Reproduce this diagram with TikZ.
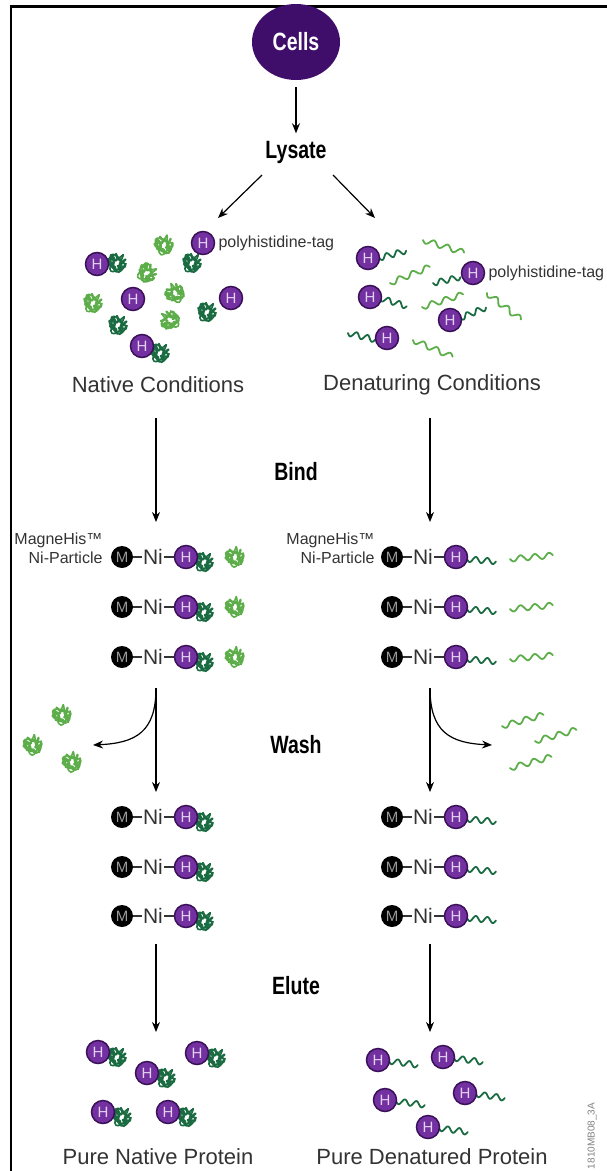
\documentclass[tikz,border=0pt]{standalone}
\usepackage{fontspec}
\setmainfont{Liberation Sans}
\newfontfamily\headfont[FakeStretch=0.78]{Liberation Sans}
\usetikzlibrary{shapes.geometric, arrows.meta}

\definecolor{cellpurple}{HTML}{3E0E6A}
\definecolor{hispurple}{HTML}{7330A0}
\definecolor{hisring}{HTML}{3A1058}
\definecolor{hisletter}{HTML}{E2D2F0}
\definecolor{darkprot}{HTML}{1B6B42}
\definecolor{lightprot}{HTML}{5DAE4A}
\definecolor{labelgray}{HTML}{333333}

\tikzset{
  head/.style={font=\headfont\bfseries\fontsize{25}{25}\selectfont},
  cond/.style={font=\fontsize{22}{22}\selectfont, text=labelgray},
  small/.style={font=\fontsize{16}{19}\selectfont, text=labelgray},
  his/.style={circle, draw=hisring, line width=1.5, fill=hispurple, text=hisletter, minimum size=23, inner sep=0, font=\fontsize{15}{15}\selectfont},
  bead/.style={circle, fill=black, text=gray!80, minimum size=22, inner sep=0, font=\fontsize{15}{15}\selectfont},
  nickel/.style={inner sep=1, font=\fontsize{21}{21}\selectfont, text=labelgray},
  flow/.style={->, line width=1.2},
  bond/.style={line width=1.3, labelgray},
  pics/coil/.style={code={
    \draw[pic actions, line width=1.6, line join=round] plot[smooth, domain=0:1000, samples=90]
      ({6*cos(\x)+3*cos(3.6*\x)}, {6.5*sin(\x)+3*sin(4.4*\x)})
      -- ++(-2,6) -- ++(5,1);}},
  pics/wave/.style 2 args={code={
    \pgfmathsetmacro\wend{#2*360}
    \draw[pic actions, line width=1.8, line cap=round] plot[smooth, domain=0:\wend, samples=40]
      ({\x/\wend*#1}, {2.8*sin(\x)});}},
}

\begin{document}
\begin{tikzpicture}[x=1pt, y=-1pt, >={Stealth[length=10pt, width=8pt]}]
  \useasboundingbox (0,0) rectangle (607,1171);
  \draw[line width=2.5] (11,1171) -- (11,6.5) -- (607,6.5);

  \node[ellipse, fill=cellpurple, text=white, minimum width=88, minimum height=76, head] (cells) at (296,42) {Cells};
  \node[head] (lysate) at (296,152) {Lysate};
  \draw[flow, shorten <=7, shorten >=4] (cells) -- (lysate);

  \coordinate (lysL) at (262,175);
  \coordinate (lysR) at (333,175);
  \coordinate (natin) at (218,218);
  \coordinate (denin) at (375,218);
  \draw[flow] (lysL) -- (natin);
  \draw[flow] (lysR) -- (denin);

  \foreach \cx/\cy/\r in {164/245/20, 147/273/-30, 175/293/60, 93/303/0, 170/320/90}
    \pic[draw=lightprot, rotate=\r] at (\cx,\cy) {coil};
  \foreach \n/\hx/\hy/\cx/\cy in {1/203/243/192/263, 2/97/264/117/263, 3/133/299/118/325, 4/231/298/207/312, 5/142/346/160/353} {
    \pic[draw=darkprot] at (\cx,\cy) {coil};
    \node[his] (nh\n) at (\hx,\hy) {H};
  }
  \node[small, anchor=west] (tagnat) at (215,243) {polyhistidine-tag};

  \foreach \wx/\wy/\a in {423/240/-17, 390/283/22, 422/307/17, 487/293/-38, 413/340/-23}
    \pic[draw=lightprot, rotate=\a] at (\wx,\wy) {wave={43}{3}};
  \foreach \n/\hx/\hy/\wx/\wy/\a in {1/368/258/379/258/15, 2/473/273/433/283/12, 3/370/297/380/298/-17, 4/450/320/460/318/22, 5/387/338/348/333/-14} {
    \pic[draw=darkprot, rotate=\a] at (\wx,\wy) {wave={28}{2.5}};
    \node[his] (dh\n) at (\hx,\hy) {H};
  }
  \node[small, anchor=west] (tagden) at (485,273) {polyhistidine-tag};

  \node[cond] (nat) at (158,385) {Native Conditions};
  \node[cond] (den) at (432,385) {Denaturing Conditions};

  \coordinate (bindL0) at (156,418);
  \coordinate (bindL1) at (156,522);
  \coordinate (bindR0) at (430,418);
  \coordinate (bindR1) at (430,522);
  \draw[flow] (bindL0) -- (bindL1);
  \draw[flow] (bindR0) -- (bindR1);
  \node[head] (bind) at (296,472) {Bind};

  \node[small, anchor=east, align=right] (magL) at (106,548) {MagneHis™\\Ni-Particle};
  \node[small, anchor=east, align=right] (magR) at (378,548) {MagneHis™\\Ni-Particle};

  \foreach \y [count=\i] in {557, 607, 657} {
    \pic[draw=darkprot] at (204,\y+5) {coil};
    \pic[draw=lightprot, rotate=30] at (235,\y) {coil};
    \node[bead] (bm\i) at (122,\y) {M};
    \node[nickel] (bn\i) at (153,\y) {Ni};
    \node[his] (bh\i) at (186,\y) {H};
    \draw[bond] (bm\i) -- (bn\i);
    \draw[bond] (bn\i) -- (bh\i);

    \pic[draw=darkprot, rotate=-5] at (467,\y+2) {wave={29}{2.5}};
    \pic[draw=lightprot, rotate=5] at (510,\y+2) {wave={43}{3}};
    \node[bead] (dm\i) at (392,\y) {M};
    \node[nickel] (dn\i) at (423,\y) {Ni};
    \node[his] (dbh\i) at (456,\y) {H};
    \draw[bond] (dm\i) -- (dn\i);
    \draw[bond] (dn\i) -- (dbh\i);
  }

  \coordinate (washL0) at (156,688);
  \coordinate (washL1) at (156,792);
  \coordinate (washLout) at (93,745);
  \coordinate (washR0) at (430,688);
  \coordinate (washR1) at (430,792);
  \coordinate (washRout) at (492,745);
  \draw[flow] (washL0) -- (washL1);
  \draw[flow] (washR0) -- (washR1);
  \draw[flow] (washL0) .. controls (156,732) and (136,743) .. (washLout);
  \draw[flow] (washR0) .. controls (430,732) and (450,743) .. (washRout);
  \node[head] (wash) at (296,745) {Wash};

  \foreach \cx/\cy in {62/715, 33/745, 72/762}
    \pic[draw=lightprot, rotate=30] at (\cx,\cy) {coil};
  \foreach \wx/\wy in {502/726, 535/741, 510/768}
    \pic[draw=lightprot, rotate=15] at (\wx,\wy) {wave={43}{3}};

  \foreach \y [count=\i] in {817, 867, 916} {
    \pic[draw=darkprot] at (204,\y+5) {coil};
    \node[bead] (wm\i) at (122,\y) {M};
    \node[nickel] (wn\i) at (153,\y) {Ni};
    \node[his] (wh\i) at (186,\y) {H};
    \draw[bond] (wm\i) -- (wn\i);
    \draw[bond] (wn\i) -- (wh\i);

    \pic[draw=darkprot, rotate=-5] at (467,\y+2) {wave={29}{2.5}};
    \node[bead] (dwm\i) at (392,\y) {M};
    \node[nickel] (dwn\i) at (423,\y) {Ni};
    \node[his] (dwh\i) at (456,\y) {H};
    \draw[bond] (dwm\i) -- (dwn\i);
    \draw[bond] (dwn\i) -- (dwh\i);
  }

  \coordinate (eluteL0) at (156,944);
  \coordinate (eluteL1) at (156,1032);
  \coordinate (eluteR0) at (430,944);
  \coordinate (eluteR1) at (430,1032);
  \draw[flow] (eluteL0) -- (eluteL1);
  \draw[flow] (eluteR0) -- (eluteR1);
  \node[head] (elute) at (296,986) {Elute};

  \foreach \n/\hx/\hy in {1/98/1052, 2/197/1053, 3/147/1073, 4/103/1112, 5/168/1112} {
    \pic[draw=darkprot] at (\hx+19,\hy+5) {coil};
    \node[his] (ph\n) at (\hx,\hy) {H};
  }
  \foreach \n/\hx/\hy in {1/378/1060, 2/443/1057, 3/385/1100, 4/465/1093, 5/428/1127} {
    \pic[draw=darkprot, rotate=-8] at (\hx+11,\hy+1) {wave={29}{2.5}};
    \node[his] (pd\n) at (\hx,\hy) {H};
  }

  \node[cond] (purenat) at (158,1157) {Pure Native Protein};
  \node[cond] (pureden) at (432,1157) {Pure Denatured Protein};
  \node[rotate=90, font=\fontsize{10}{10}\selectfont, text=gray] (figcode) at (592,1136) {1810MB08\_3A};
\end{tikzpicture}
\end{document}
